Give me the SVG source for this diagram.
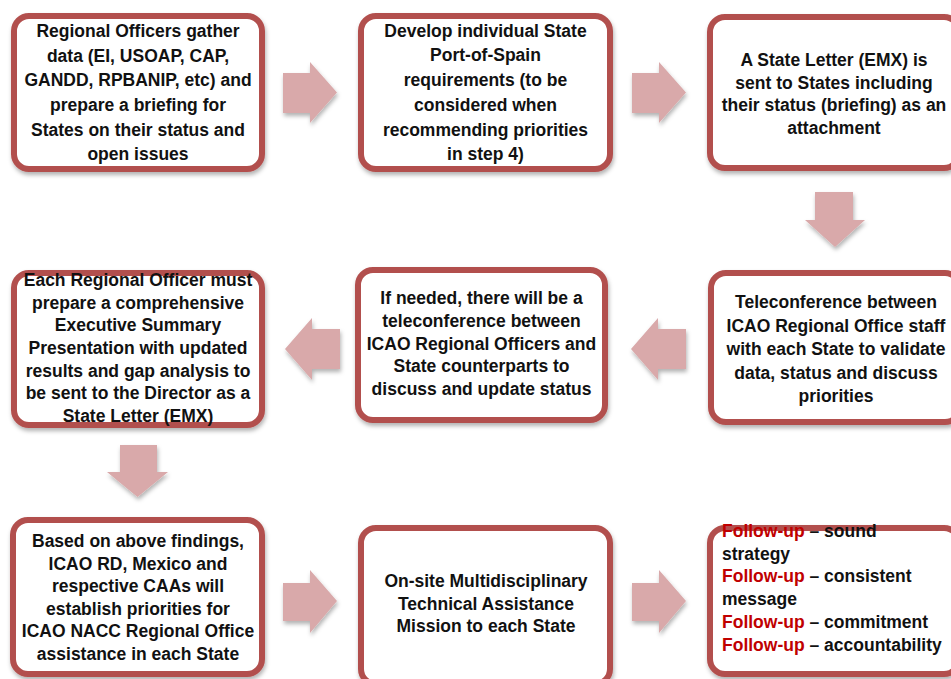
<svg xmlns="http://www.w3.org/2000/svg" width="951" height="679" viewBox="0 0 951 679">
<defs>
<filter id="sh" x="-10%" y="-10%" width="130%" height="130%">
<feDropShadow dx="1" dy="3" stdDeviation="2" flood-color="#000" flood-opacity="0.3"/>
</filter>
<style>
.box{fill:#fff;stroke:#b24f4d;stroke-width:6;filter:url(#sh)}
.arr{fill:#d9a9aa;filter:url(#sh)}
text{font-family:"Liberation Sans",Arial,sans-serif;font-weight:bold;font-size:17.5px;fill:#111}
.c{text-anchor:middle}
.red{fill:#c00000}
</style>
</defs>
<rect width="951" height="679" fill="#fff"/>
<g id="connectors">
<path class="arr" d="M283,73 H310 V62 L337,92.5 L310,123 V113 H283 Z"/>
<path class="arr" d="M632,73 H659 V62 L686,92.5 L659,123 V113 H632 Z"/>
<path class="arr" d="M815,192 H853 V220 H865 L835,247 L805,220 H815 Z"/>
<path class="arr" d="M686,329 H658 V318 L631,349 L658,380 V369 H686 Z"/>
<path class="arr" d="M340,329 H312 V318 L285,349 L312,380 V369 H340 Z"/>
<path class="arr" d="M120,445 H157 V472 H168 L137.5,497 L107,472 H120 Z"/>
<path class="arr" d="M283,583 H310 V570 L337,601 L310,633 V621 H283 Z"/>
<path class="arr" d="M632,583 H659 V570 L686,601 L659,633 V621 H632 Z"/>
</g>
<g id="n1">
<rect class="box" x="14" y="16" width="248" height="153" rx="15"/>
<text class="c" x="138" y="37">Regional Officers gather</text>
<text class="c" x="138" y="62">data (EI, USOAP, CAP,</text>
<text class="c" x="138" y="86">GANDD, RPBANIP, etc) and</text>
<text class="c" x="138" y="111">prepare a briefing for</text>
<text class="c" x="138" y="136">States on their status and</text>
<text class="c" x="138" y="160">open issues</text>
</g>
<g id="n2">
<rect class="box" x="361" y="16" width="249" height="153" rx="15"/>
<text class="c" x="485.5" y="37">Develop individual State</text>
<text class="c" x="485.5" y="61">Port-of-Spain</text>
<text class="c" x="485.5" y="86">requirements (to be</text>
<text class="c" x="485.5" y="111">considered when</text>
<text class="c" x="485.5" y="136">recommending priorities</text>
<text class="c" x="485.5" y="160">in step 4)</text>
</g>
<g id="n3">
<rect class="box" x="710" y="17" width="249" height="151" rx="15"/>
<text class="c" x="834" y="66">A State Letter (EMX) is</text>
<text class="c" x="834" y="88.5">sent to States including</text>
<text class="c" x="834" y="111">their status (briefing) as an</text>
<text class="c" x="834" y="133.5">attachment</text>
</g>
<g id="n4">
<rect class="box" x="711" y="273" width="249" height="149" rx="15"/>
<text class="c" x="836" y="308">Teleconference between</text>
<text class="c" x="836" y="331.5">ICAO Regional Office staff</text>
<text class="c" x="836" y="355">with each State to validate</text>
<text class="c" x="836" y="378.5">data, status and discuss</text>
<text class="c" x="836" y="402">priorities</text>
</g>
<g id="n5">
<rect class="box" x="358" y="270" width="247" height="150" rx="15"/>
<text class="c" x="481.5" y="304">If needed, there will be a</text>
<text class="c" x="481.5" y="327">teleconference between</text>
<text class="c" x="481.5" y="350">ICAO Regional Officers and</text>
<text class="c" x="481.5" y="372">State counterparts to</text>
<text class="c" x="481.5" y="395">discuss and update status</text>
</g>
<g id="n6">
<rect class="box" x="14" y="273" width="248" height="152" rx="15"/>
<text class="c" x="138" y="286">Each Regional Officer must</text>
<text class="c" x="138" y="308.7">prepare a comprehensive</text>
<text class="c" x="138" y="331.3">Executive Summary</text>
<text class="c" x="138" y="354">Presentation with updated</text>
<text class="c" x="138" y="376.7">results and gap analysis to</text>
<text class="c" x="138" y="399.3">be sent to the Director as a</text>
<text class="c" x="138" y="422">State Letter (EMX)</text>
</g>
<g id="n7">
<rect class="box" x="13" y="520" width="249" height="154" rx="15"/>
<text class="c" x="138" y="547">Based on above findings,</text>
<text class="c" x="138" y="569.6">ICAO RD, Mexico and</text>
<text class="c" x="138" y="592.2">respective CAAs will</text>
<text class="c" x="138" y="614.8">establish priorities for</text>
<text class="c" x="138" y="637.4">ICAO NACC Regional Office</text>
<text class="c" x="138" y="660">assistance in each State</text>
</g>
<g id="n8">
<rect class="box" x="361" y="528" width="249" height="156" rx="15"/>
<text class="c" x="486" y="587">On-site Multidisciplinary</text>
<text class="c" x="486" y="610">Technical Assistance</text>
<text class="c" x="486" y="632">Mission to each State</text>
</g>
<g id="n9">
<rect class="box" x="710" y="528" width="249" height="146" rx="15"/>
<text x="722" y="537"><tspan class="red">Follow-up</tspan> – sound</text>
<text x="722" y="559.7">strategy</text>
<text x="722" y="582.4"><tspan class="red">Follow-up</tspan> – consistent</text>
<text x="722" y="605">message</text>
<text x="722" y="627.8"><tspan class="red">Follow-up</tspan> – commitment</text>
<text x="722" y="650.5"><tspan class="red">Follow-up</tspan> – accountability</text>
</g>
</svg>
